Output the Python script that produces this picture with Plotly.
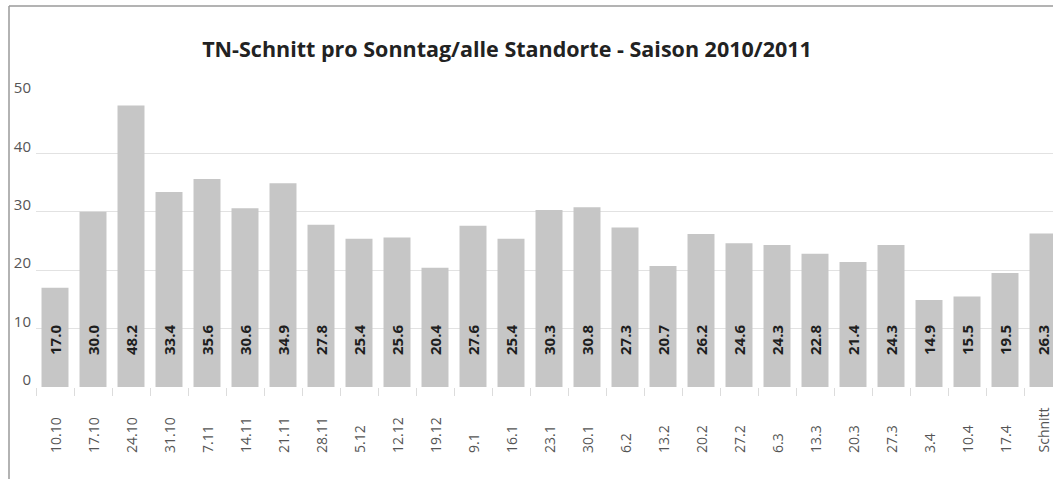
import plotly.graph_objects as go

categories = ["10.10", "17.10", "24.10", "31.10", "7.11", "14.11", "21.11", "28.11",
              "5.12", "12.12", "19.12", "9.1", "16.1", "23.1", "30.1", "6.2", "13.2",
              "20.2", "27.2", "6.3", "13.3", "20.3", "27.3", "3.4", "10.4", "17.4", "Schnitt"]
values = [17.0, 30.0, 48.2, 33.4, 35.6, 30.6, 34.9, 27.8, 25.4, 25.6, 20.4, 27.6, 25.4,
          30.3, 30.8, 27.3, 20.7, 26.2, 24.6, 24.3, 22.8, 21.4, 24.3, 14.9, 15.5, 19.5, 26.3]
y_ticks = [0, 10, 20, 30, 40, 50]
title_text = "TN-Schnitt pro Sonntag/alle Standorte - Saison 2010/2011"

W, H = 1053, 479
L, R, T, B = 36, 0, 95, 92
plot_w = W - L - R
plot_h = H - T - B
cat_px = 38.0

fig = go.Figure()
fig.add_trace(go.Bar(
    x=categories, y=values,
    marker=dict(color="#c6c6c6", line=dict(width=0)),
    hoverinfo="x+y",
))

# value labels inside bars (rotated)
for i, v in enumerate(values):
    fig.add_annotation(
        x=i, y=0, xref="x", yref="y",
        text="<b>%.1f</b>" % v, showarrow=False, textangle=-90,
        yanchor="bottom", xanchor="center", yshift=30,
        font=dict(family="Open Sans", size=15, color="#1e1e1e"),
    )

# category labels (rotated, bottom aligned)
label_bottom_px = 455
for i, c in enumerate(categories):
    fig.add_annotation(
        x=i, y=-(label_bottom_px - (H - B)) / plot_h, xref="x", yref="paper",
        text=c, showarrow=False, textangle=-90,
        yanchor="bottom", xanchor="center",
        font=dict(family="Open Sans", size=14, color="#555555"),
    )

# frame lines (left and top)
fx = (9 - L) / plot_w
fy_top = ((H - B) - 6) / plot_h
fy_bot = ((H - B) - H) / plot_h
fig.add_shape(type="line", xref="paper", yref="paper", x0=fx, x1=fx, y0=fy_bot, y1=fy_top,
              line=dict(color="#9a9a9a", width=1.5))
fig.add_shape(type="line", xref="paper", yref="paper", x0=fx, x1=1.0, y0=fy_top, y1=fy_top,
              line=dict(color="#9a9a9a", width=1.5))

fig.update_layout(
    width=W, height=H,
    margin=dict(l=L, r=R, t=T, b=B, pad=0),
    paper_bgcolor="white", plot_bgcolor="white",
    showlegend=False,
    bargap=0.29,
    title=dict(text="<b>" + title_text + "</b>", x=507 / W, xanchor="center",
               y=1 - 49 / H, yanchor="middle", xref="container", yref="container",
               font=dict(family="Open Sans", size=21.5, color="#222222")),
    xaxis=dict(
        type="category",
        range=[-0.5, -0.5 + plot_w / cat_px],
        showticklabels=False,
        ticks="outside", tickson="boundaries", ticklen=8, tickwidth=1, tickcolor="#dcdcdc",
        showgrid=False, zeroline=False, showline=False,
        fixedrange=True,
    ),
    yaxis=dict(
        range=[0, 50],
        tickvals=y_ticks, ticktext=[str(t) for t in y_ticks],
        showgrid=True, gridcolor="#e2e2e2", gridwidth=1,
        zeroline=False, showline=False, ticks="",
        ticklabelshift=-7, ticklabelstandoff=4,
        tickfont=dict(family="Open Sans", size=15, color="#555555"),
        fixedrange=True,
    ),
)

fig.write_html("out.html", config={"displayModeBar": False},
               post_script="document.body.style.margin='0';")
